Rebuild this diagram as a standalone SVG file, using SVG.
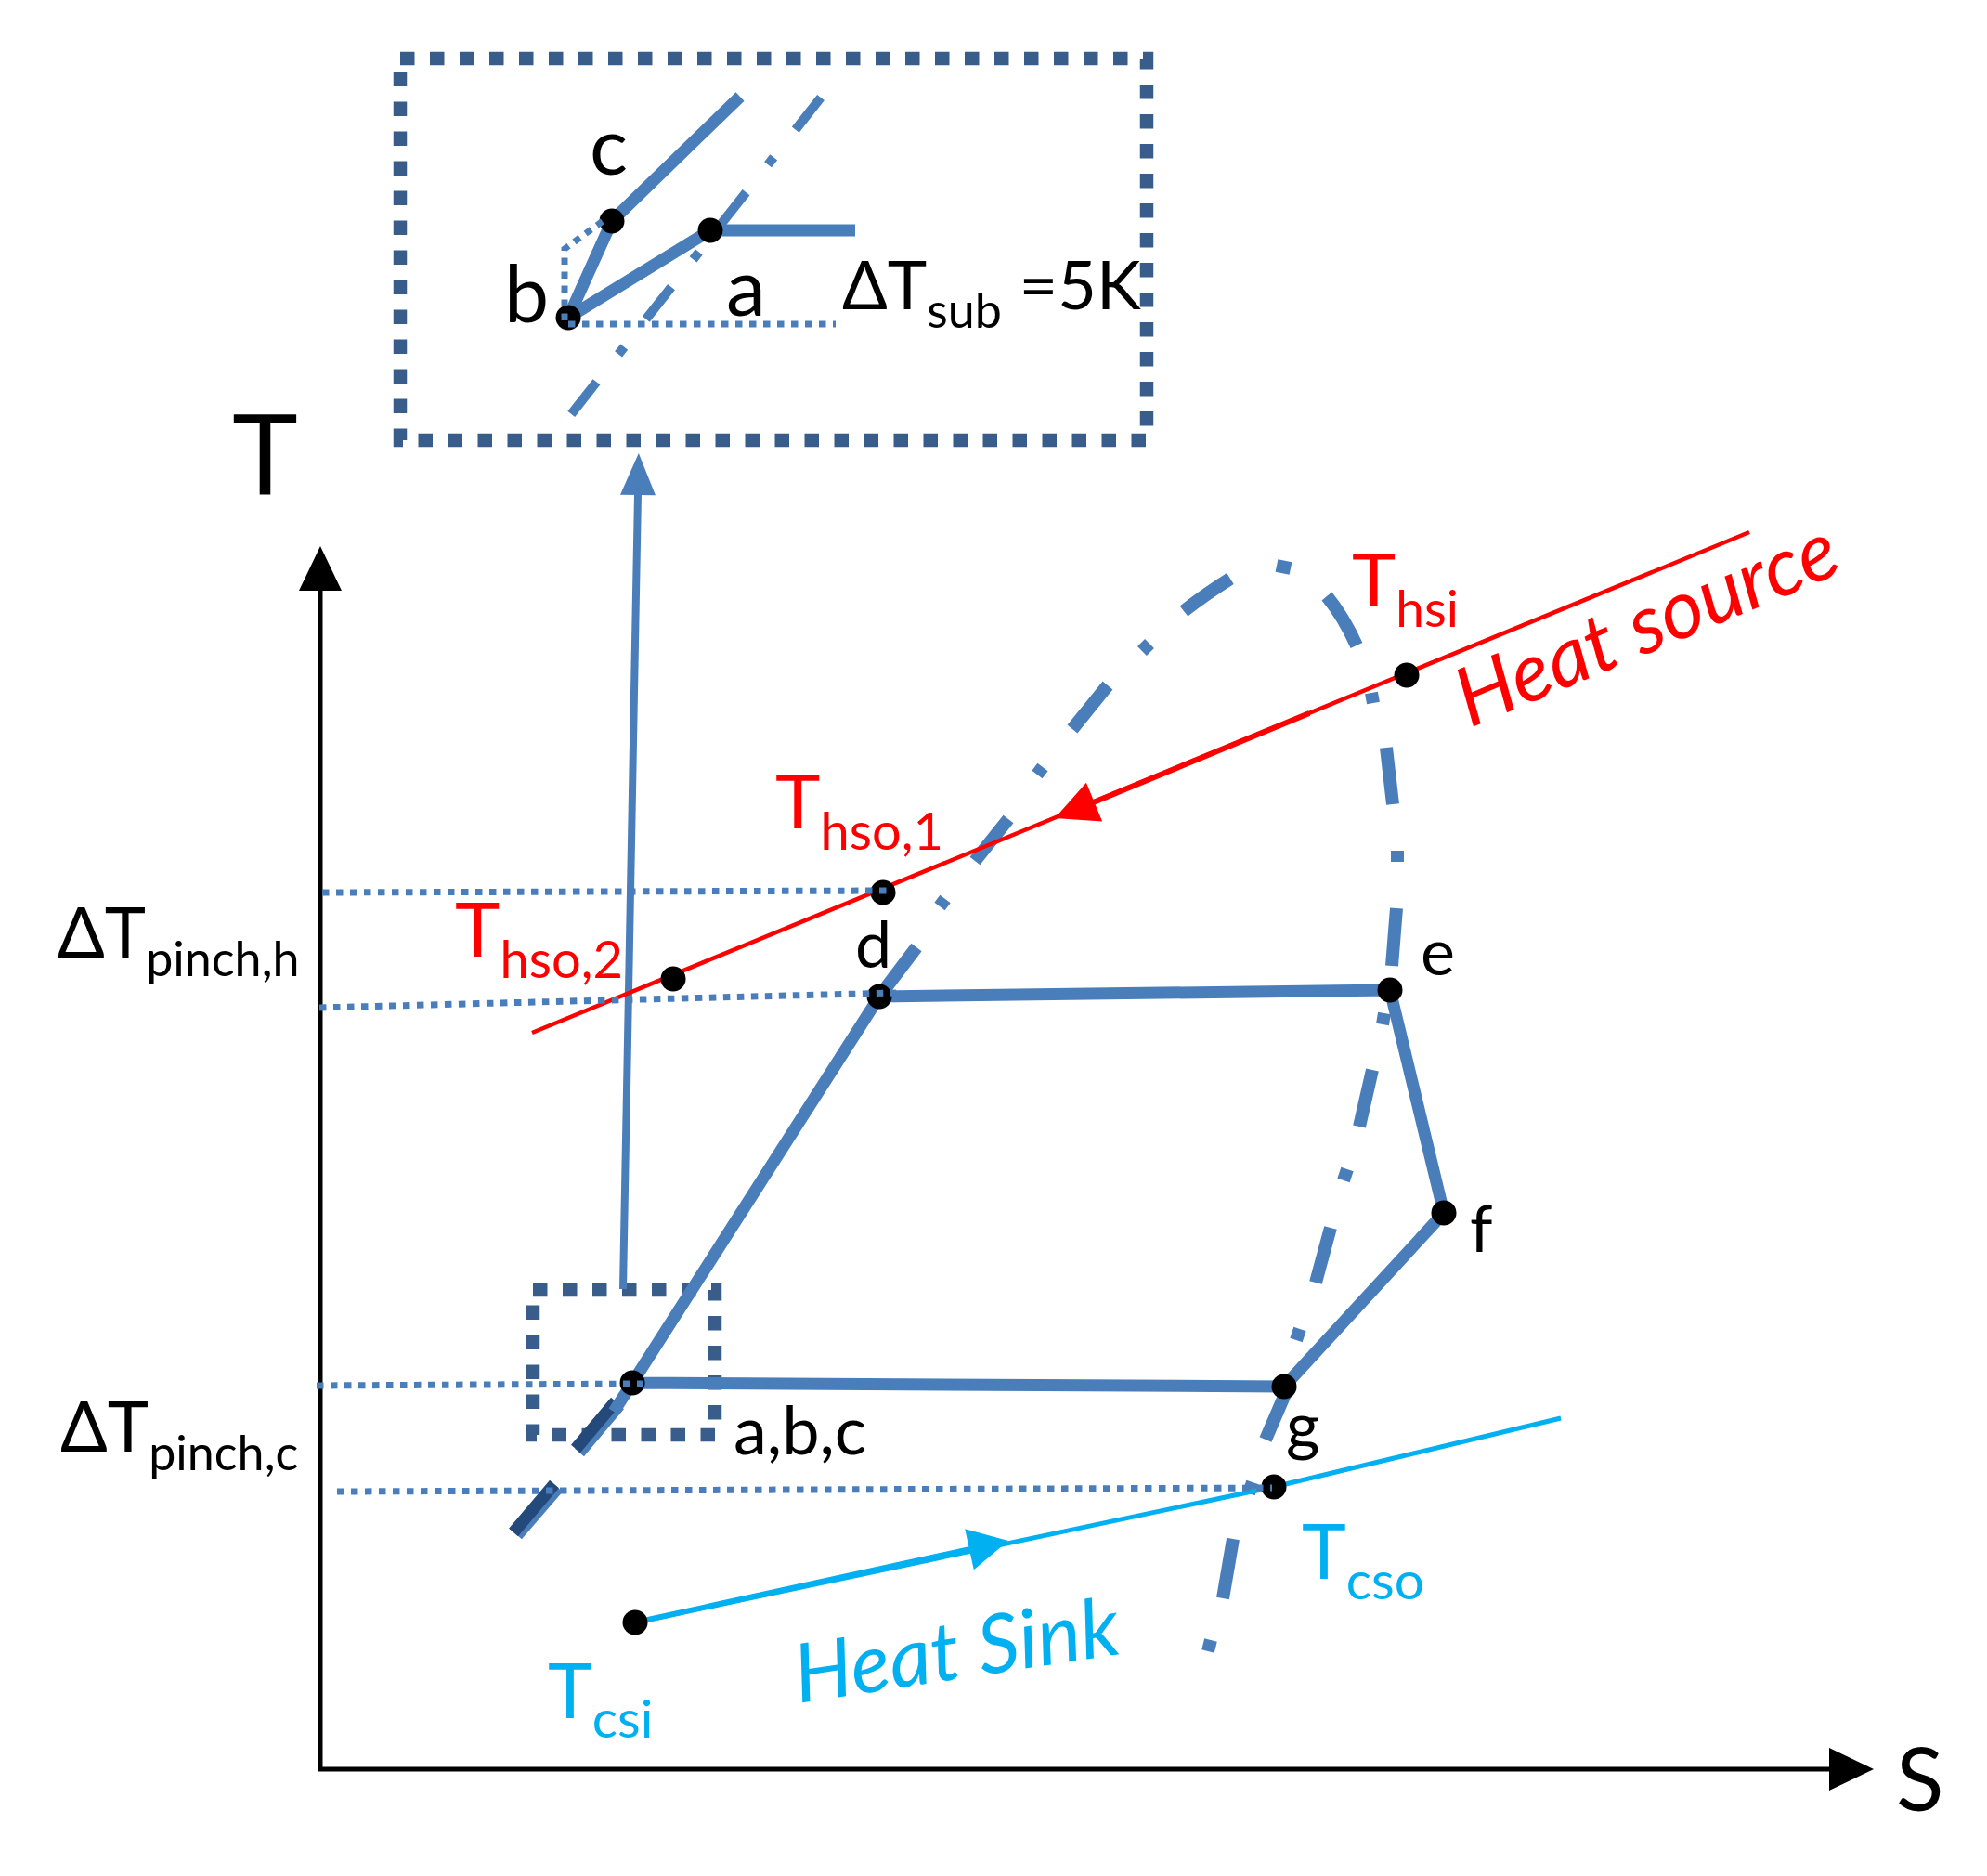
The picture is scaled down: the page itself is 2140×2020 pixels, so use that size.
<svg xmlns="http://www.w3.org/2000/svg" width="2140" height="2020" viewBox="0 0 2140 2020">
<style>
text{font-family:Lato,"Liberation Sans","DejaVu Sans",sans-serif;}
.lbl{fill:#000;}
.red{fill:#FF0000;}
.cyan{fill:#00B0F0;}
.cyc{fill:none;stroke:#4A7EBB;stroke-width:13;stroke-linejoin:round;}
.dome{fill:none;stroke:#4A7EBB;stroke-width:14;stroke-linecap:butt;}
.dot{fill:none;stroke:#4A7EBB;stroke-width:7;stroke-dasharray:7.5 7.5;}
.box{fill:none;stroke:#385D8A;stroke-width:14.5;stroke-dasharray:15.5 16.5;}
.pt{fill:#000;}
.dark{fill:none;stroke:#234A7B;stroke-width:13;}
.darksh{fill:none;stroke:#4A7EBB;stroke-width:13;}
</style>
<defs>
<marker id="axisArrow" markerUnits="userSpaceOnUse" markerWidth="50" markerHeight="50" refX="0" refY="0" orient="auto" overflow="visible"><path d="M-1,-23 L47,0 L-1,23 z" fill="#000"/></marker>
<marker id="blueArrow" markerUnits="userSpaceOnUse" markerWidth="50" markerHeight="50" refX="0" refY="0" orient="auto" overflow="visible"><path d="M-1,-19 L44,0 L-1,19 z" fill="#4A7EBB"/></marker>
<marker id="redArrow" markerUnits="userSpaceOnUse" markerWidth="50" markerHeight="50" refX="0" refY="0" orient="auto" overflow="visible"><path d="M-1,-22.6 L45,0 L-1,22.6 z" fill="#FF0000"/></marker>
<marker id="cyanArrow" markerUnits="userSpaceOnUse" markerWidth="50" markerHeight="50" refX="0" refY="0" orient="auto" overflow="visible"><path d="M-1,-22.5 L42,0 L-1,22.5 z" fill="#00B0F0"/></marker>
</defs>
<rect width="2140" height="2020" fill="#fff"/>

<g id="axes">
<line x1="345" y1="1907" x2="345" y2="635" stroke="#000" stroke-width="5" marker-end="url(#axisArrow)"/>
<line x1="343" y1="1905" x2="1971" y2="1905" stroke="#000" stroke-width="5" marker-end="url(#axisArrow)"/>
<text class="lbl" x="250" y="533" font-size="120">T</text>
<text class="lbl" x="2042" y="1950" font-size="95">S</text>
</g>

<g id="boxes">
<rect id="inset-box" class="box" x="431" y="63" width="804" height="411"/>
<rect id="zoom-box" class="box" x="574" y="1389" width="196" height="156"/>
</g>

<g id="connectors">
<path id="dome" class="dome" d="M947,1073 L987,1020 M1012,976 L1018,968 M1050,927 L1086,882 M1117,834 L1123,826 M1155,785 L1193,738 M1230,701 L1238,693 M1275,658 Q1298,640 1325,623 M1375,609 L1390,612 M1429,642 Q1447,664 1461,695 M1477,746 L1479,757 M1493,805 L1500,866 M1505,916 L1505,928 M1504,978 L1499,1040 M1491,1091 L1489,1103 M1478,1152 L1464,1213 M1451,1259 L1447,1271 M1433,1322 L1417,1381 M1400,1431 L1396,1443 M1388,1492 L1363,1550 M1349,1596 L1345,1608 M1328,1657 L1317,1721 M1304,1766 L1301,1778"/>
<path class="darksh" d="M667,1513 L624,1564 M601,1602 L557,1653"/>
<path class="dark" d="M663,1509 L620,1560 M597,1598 L553,1650"/>
<path id="cycle" class="cyc" d="M661,1520 L681,1489 L947,1073 L1497,1066 L1555,1306 L1383,1493 L681,1489"/>
<line x1="671" y1="1388" x2="687" y2="532" stroke="#4A7EBB" stroke-width="8" marker-end="url(#blueArrow)"/>
<line x1="1884" y1="573" x2="573" y2="1112" stroke="#FF0000" stroke-width="4.5"/>
<line x1="1410" y1="768" x2="1177.6" y2="863.9" stroke="#FF0000" stroke-width="6" marker-end="url(#redArrow)"/>
<polyline points="684,1747 1372,1601 1681,1527" fill="none" stroke="#00B0F0" stroke-width="5"/>
<line x1="684" y1="1747" x2="1045" y2="1668" stroke="#00B0F0" stroke-width="6" marker-end="url(#cyanArrow)"/>
<line x1="884" y1="105" x2="608" y2="455" stroke="#4A7EBB" stroke-width="10" stroke-dasharray="44 38 10 38"/>
<path class="cyc" stroke-width="14" d="M797,104 L659,238 L612,342 L765,248 L921,248"/>
</g>

<g id="nodes">
<g id="pt-Thsi"><circle class="pt" cx="1515" cy="727" r="13.5"/><text class="red" x="1456" y="653" font-size="80">T<tspan font-size="55" dy="22">hsi</tspan></text></g>
<g id="pt-Thso1"><circle class="pt" cx="951" cy="961" r="13.5"/><text class="red" x="835" y="892" font-size="82">T<tspan font-size="56" dy="23">hso,1</tspan></text></g>
<g id="pt-Thso2"><circle class="pt" cx="725" cy="1054" r="13.5"/><text class="red" x="490" y="1030" font-size="82">T<tspan font-size="56" dy="23">hso,2</tspan></text></g>
<g id="pt-d"><circle class="pt" cx="947" cy="1073" r="13.5"/><text class="lbl" x="921" y="1042" font-size="70">d</text></g>
<g id="pt-e"><circle class="pt" cx="1497" cy="1066" r="13.5"/><text class="lbl" x="1530" y="1050" font-size="70">e</text></g>
<g id="pt-f"><circle class="pt" cx="1555" cy="1306" r="13.5"/><text class="lbl" x="1583" y="1348" font-size="70">f</text></g>
<g id="pt-g"><circle class="pt" cx="1383" cy="1493" r="13.5"/><text class="lbl" x="1385" y="1560" font-size="70">g</text></g>
<g id="pt-abc"><circle class="pt" cx="681" cy="1489" r="13.5"/><text class="lbl" x="790" y="1566" font-size="72">a,b,c</text></g>
<g id="pt-Tcso"><circle class="pt" cx="1372" cy="1601" r="13.5"/><text class="cyan" x="1402" y="1700" font-size="81">T<tspan font-size="57" dy="22">cso</tspan></text></g>
<g id="pt-Tcsi"><circle class="pt" cx="684" cy="1747" r="13.5"/><text class="cyan" x="590" y="1850" font-size="81">T<tspan font-size="57" dy="21">csi</tspan></text></g>
<g id="inset-c"><circle class="pt" cx="659" cy="238" r="13.5"/><text class="lbl" x="635" y="188" font-size="86">c</text></g>
<g id="inset-a"><circle class="pt" cx="765" cy="248" r="13.5"/><text class="lbl" x="782" y="340" font-size="86">a</text></g>
<g id="inset-b"><circle class="pt" cx="612" cy="342" r="13.5"/><text class="lbl" x="543" y="347" font-size="86">b</text></g>
</g>

<g id="guides">
<line class="dot" x1="347" y1="961" x2="955" y2="959"/>
<line class="dot" x1="344" y1="1085" x2="965" y2="1069"/>
<line class="dot" x1="341" y1="1492" x2="692" y2="1490"/>
<line class="dot" x1="363" y1="1606" x2="1370" y2="1602"/>
<polyline class="dot" stroke-width="8" points="608,345 608,268 652,236"/>
<line class="dot" stroke-width="8" x1="612" y1="349" x2="900" y2="349"/>
</g>

<g id="labels">
<text class="lbl" x="62" y="1031" font-size="75">ΔT<tspan font-size="52" dy="20">pinch,h</tspan></text>
<text class="lbl" x="65" y="1563" font-size="75">ΔT<tspan font-size="52" dy="20">pinch,c</tspan></text>
<text class="lbl" x="907" y="333" font-size="72">ΔT<tspan font-size="52" dy="20">sub</tspan><tspan dy="-20"> =5K</tspan></text>
<text class="red" font-size="88" font-style="italic" transform="translate(1583,784) rotate(-22.7)">Heat source</text>
<text class="cyan" font-size="88" font-style="italic" transform="translate(860,1834) rotate(-8.7)">Heat Sink</text>
</g>
</svg>
